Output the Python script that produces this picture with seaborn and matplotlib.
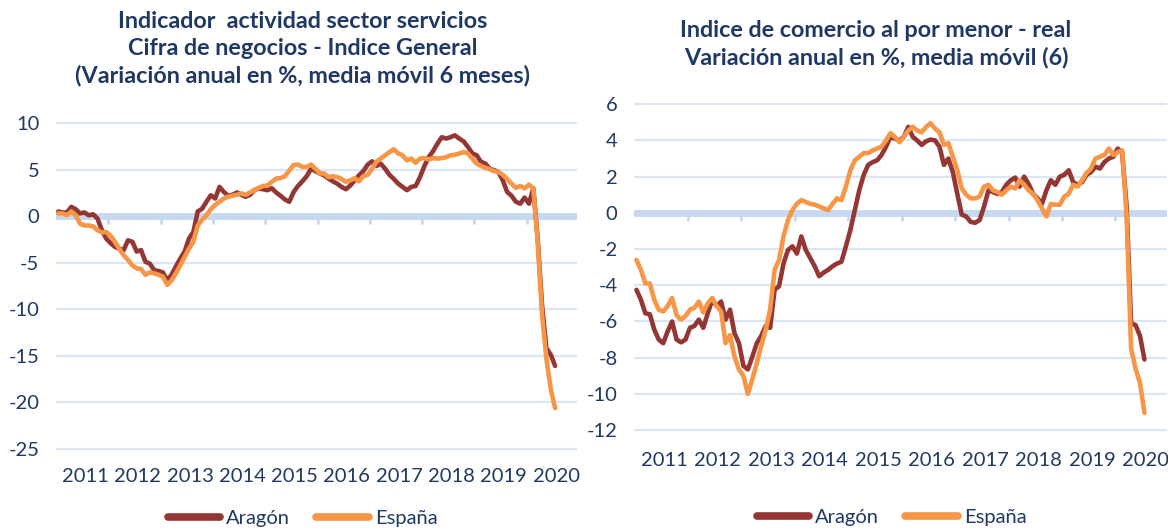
import numpy as np
import pandas as pd
import seaborn as sns
import matplotlib.pyplot as plt

# monthly data, Jan 2011 - Jul 2020
start_year = 2011
years = list(range(2011, 2021))

# left: servicios, cifra de negocios (var. anual %, media movil 6 meses)
aragon_serv = [
    0.5, 0.4, 0.4, 1.0, 0.75, 0.3, 0.4, 0.1, 0.2, -0.25, -1.5, -2.4,
    -2.9, -3.3, -3.5, -3.65, -2.6, -2.75, -3.8, -3.65, -4.9, -5.1, -5.8, -5.9,
    -6.05, -6.9, -6.3, -5.4, -4.55, -3.8, -2.4, -1.7, 0.5, 0.8, 1.55, 2.25,
    1.9, 3.15, 2.6, 2.2, 2.3, 2.55, 2.3, 2.1, 2.3, 2.8, 3.0, 2.9,
    2.8, 3.0, 2.55, 2.2, 1.8, 1.55, 2.6, 3.25, 3.75, 4.3, 5.1, 4.85,
    4.6, 4.4, 4.05, 3.75, 3.5, 3.15, 2.9, 3.3, 3.85, 4.4, 4.85, 5.55,
    5.9, 5.4, 5.65, 5.1, 4.45, 4.0, 3.5, 3.15, 2.8, 3.15, 3.25, 4.2,
    5.4, 6.35, 7.0, 7.8, 8.5, 8.35, 8.5, 8.7, 8.35, 8.05, 7.45, 6.75,
    6.55, 5.85, 5.65, 5.1, 4.95, 4.75, 3.85, 2.6, 2.2, 1.55, 1.35, 2.0,
    1.35, 3.0, -2.4, -9.6, -14.2, -14.9, -16.1,
]
espana_serv = [
    0.3, 0.3, 0.1, 0.5, 0.1, -0.8, -1.0, -1.0, -1.1, -1.5, -1.75, -1.7,
    -2.1, -2.75, -3.5, -4.2, -4.7, -5.3, -5.6, -5.7, -6.3, -6.05, -6.15, -6.3,
    -6.5, -7.4, -6.9, -6.15, -5.3, -4.4, -3.5, -2.75, -1.0, -0.4, 0.1, 0.75,
    1.2, 1.55, 1.9, 2.1, 2.2, 2.3, 2.45, 2.3, 2.55, 2.8, 3.05, 3.25,
    3.3, 3.7, 4.05, 4.1, 4.3, 4.9, 5.5, 5.55, 5.3, 5.3, 5.55, 5.1,
    4.6, 4.6, 4.2, 4.3, 4.2, 4.0, 3.7, 3.85, 4.1, 3.75, 4.3, 4.45,
    5.1, 5.85, 6.2, 6.55, 6.9, 7.2, 6.75, 6.55, 6.0, 6.2, 5.75, 6.2,
    6.25, 6.1, 6.25, 6.2, 6.25, 6.35, 6.55, 6.6, 6.75, 6.9, 6.75, 6.2,
    5.65, 5.4, 5.2, 5.05, 4.85, 4.75, 4.45, 4.0, 3.5, 3.05, 3.25, 3.0,
    3.4, 3.0, -2.75, -10.6, -15.3, -18.6, -20.65,
]

# right: comercio al por menor real (var. anual %, media movil 6)
aragon_com = [
    -4.25, -4.8, -5.55, -5.6, -6.45, -7.0, -7.2, -6.55, -6.0, -7.0, -7.15, -7.0,
    -6.35, -6.25, -5.9, -6.35, -5.55, -4.8, -5.15, -4.9, -5.9, -5.35, -6.65, -7.2,
    -8.45, -8.65, -7.95, -7.2, -6.8, -6.25, -6.35, -4.25, -4.05, -2.8, -2.05, -1.85,
    -2.25, -1.3, -2.05, -2.5, -2.95, -3.5, -3.3, -3.15, -2.95, -2.8, -2.7, -1.85,
    -0.95, 0.15, 1.25, 2.1, 2.65, 2.8, 2.9, 3.2, 3.65, 4.2, 4.1, 4.0,
    4.2, 4.75, 4.2, 4.0, 3.75, 3.95, 4.05, 4.0, 3.65, 2.65, 3.0, 2.25,
    1.05, -0.1, -0.2, -0.5, -0.55, -0.4, 0.35, 1.25, 1.15, 1.05, 1.15, 1.55,
    1.8, 1.95, 1.45, 2.0, 1.6, 1.05, 0.8, 0.5, 1.25, 1.8, 1.55, 2.0,
    2.1, 2.35, 1.7, 1.55, 1.7, 2.1, 2.25, 2.55, 2.45, 2.8, 3.0, 3.1,
    3.55, 3.3, 0.35, -6.1, -6.2, -6.8, -8.1,
]
espana_com = [
    -2.6, -3.15, -3.9, -3.9, -4.8, -5.35, -5.45, -5.15, -4.7, -5.65, -5.9, -5.7,
    -5.35, -5.25, -4.9, -5.5, -5.0, -4.7, -5.15, -5.45, -7.2, -6.75, -7.95, -8.65,
    -9.0, -10.0, -9.2, -8.3, -7.35, -6.45, -5.35, -3.15, -2.6, -1.3, -0.4, 0.15,
    0.5, 0.7, 0.6, 0.5, 0.45, 0.35, 0.25, 0.15, 0.5, 0.8, 0.7, 1.45,
    2.35, 2.9, 3.1, 3.3, 3.3, 3.45, 3.55, 3.65, 4.0, 4.4, 4.2, 3.9,
    4.2, 4.55, 4.75, 4.55, 4.45, 4.75, 4.95, 4.65, 4.45, 3.75, 3.85, 3.1,
    2.35, 1.35, 1.0, 0.8, 0.8, 0.9, 1.45, 1.55, 1.25, 1.15, 1.0, 1.25,
    1.45, 1.35, 1.8, 1.55, 1.25, 1.05, 0.7, 0.25, -0.2, 0.5, 0.45, 0.45,
    0.9, 1.05, 1.55, 1.45, 1.8, 2.2, 2.45, 3.0, 3.1, 3.2, 3.55, 3.2,
    3.35, 3.45, -0.2, -7.5, -8.6, -9.4, -11.05,
]

titles = [
    "Indicador  actividad sector servicios\nCifra de negocios - Indice General\n(Variación anual en %, media móvil 6 meses)",
    "Indice de comercio al por menor - real\nVariación anual en %, media móvil (6)",
]
palette = {"Aragón": "#943634", "España": "#F79646"}

NAVY = "#1F3864"
GRID = "#DCE6F2"
ZERO = "#C6D9F0"

sns.set_style("white")
plt.rcParams["font.family"] = ["Lato", "DejaVu Sans"]
plt.rcParams["axes.unicode_minus"] = False


def make_df(aragon, espana):
    n = len(aragon)
    t = start_year + (np.arange(n) + 0.5) / 12.0
    df = pd.DataFrame({"t": np.concatenate([t, t]),
                       "valor": aragon + espana,
                       "serie": ["Aragón"] * n + ["España"] * n})
    return df


def panel(ax, df, yticks, title, title_pos, xpad, leg_pos):
    sns.lineplot(data=df, x="t", y="valor", hue="serie", palette=palette,
                 linewidth=3.3, ax=ax, zorder=3)
    rng = yticks[-1] - yticks[0]
    ax.set_yticks(yticks)
    ax.set_ylim(yticks[0] - 0.012 * rng, yticks[-1] + 0.012 * rng)
    ax.set_xlim(start_year, 2020.96)
    ax.set_xticks([y + 0.56 for y in years])
    ax.set_xticklabels([str(y) for y in years])
    ax.tick_params(axis="both", length=0, labelsize=14.5, labelcolor=NAVY)
    ax.tick_params(axis="x", pad=xpad)
    ax.tick_params(axis="y", pad=12)
    for yv in yticks:
        if yv != 0:
            ax.axhline(yv, color=GRID, lw=1.6, zorder=1)
    ax.axhline(0, color=ZERO, lw=5, zorder=2)
    # small year marks under the zero axis
    ax.vlines(range(2012, 2021), -0.025 * rng, 0, color=ZERO, lw=2, zorder=2)
    for s in ax.spines.values():
        s.set_visible(False)
    ax.set_xlabel("")
    ax.set_ylabel("")
    ax.figure.text(title_pos[0], title_pos[1], title, ha="center", va="top",
                   fontsize=16.8, fontweight="bold", color=NAVY, linespacing=1.33)
    leg = ax.legend(loc="center", bbox_to_anchor=leg_pos,
                    ncol=2, frameon=False, fontsize=14.5, handlelength=2.6,
                    handletextpad=0.3, columnspacing=1.3)
    for line in leg.get_lines():
        line.set_linewidth(5.5)
    for txt in leg.get_texts():
        txt.set_color(NAVY)


fig = plt.figure(figsize=(11.68, 5.28), dpi=100)
ax1 = fig.add_axes([0.048, 0.143, 0.446, 0.631])
ax2 = fig.add_axes([0.543, 0.178, 0.456, 0.632])

panel(ax1, make_df(aragon_serv, espana_serv), [-25, -20, -15, -10, -5, 0, 5, 10],
      titles[0], (0.259, 0.979), 11.5, (0.473, -0.197))
panel(ax2, make_df(aragon_com, espana_com), list(range(-12, 7, 2)),
      titles[1], (0.75, 0.963), 13, (0.483, -0.249))

fig.savefig("out.png", dpi=100)
